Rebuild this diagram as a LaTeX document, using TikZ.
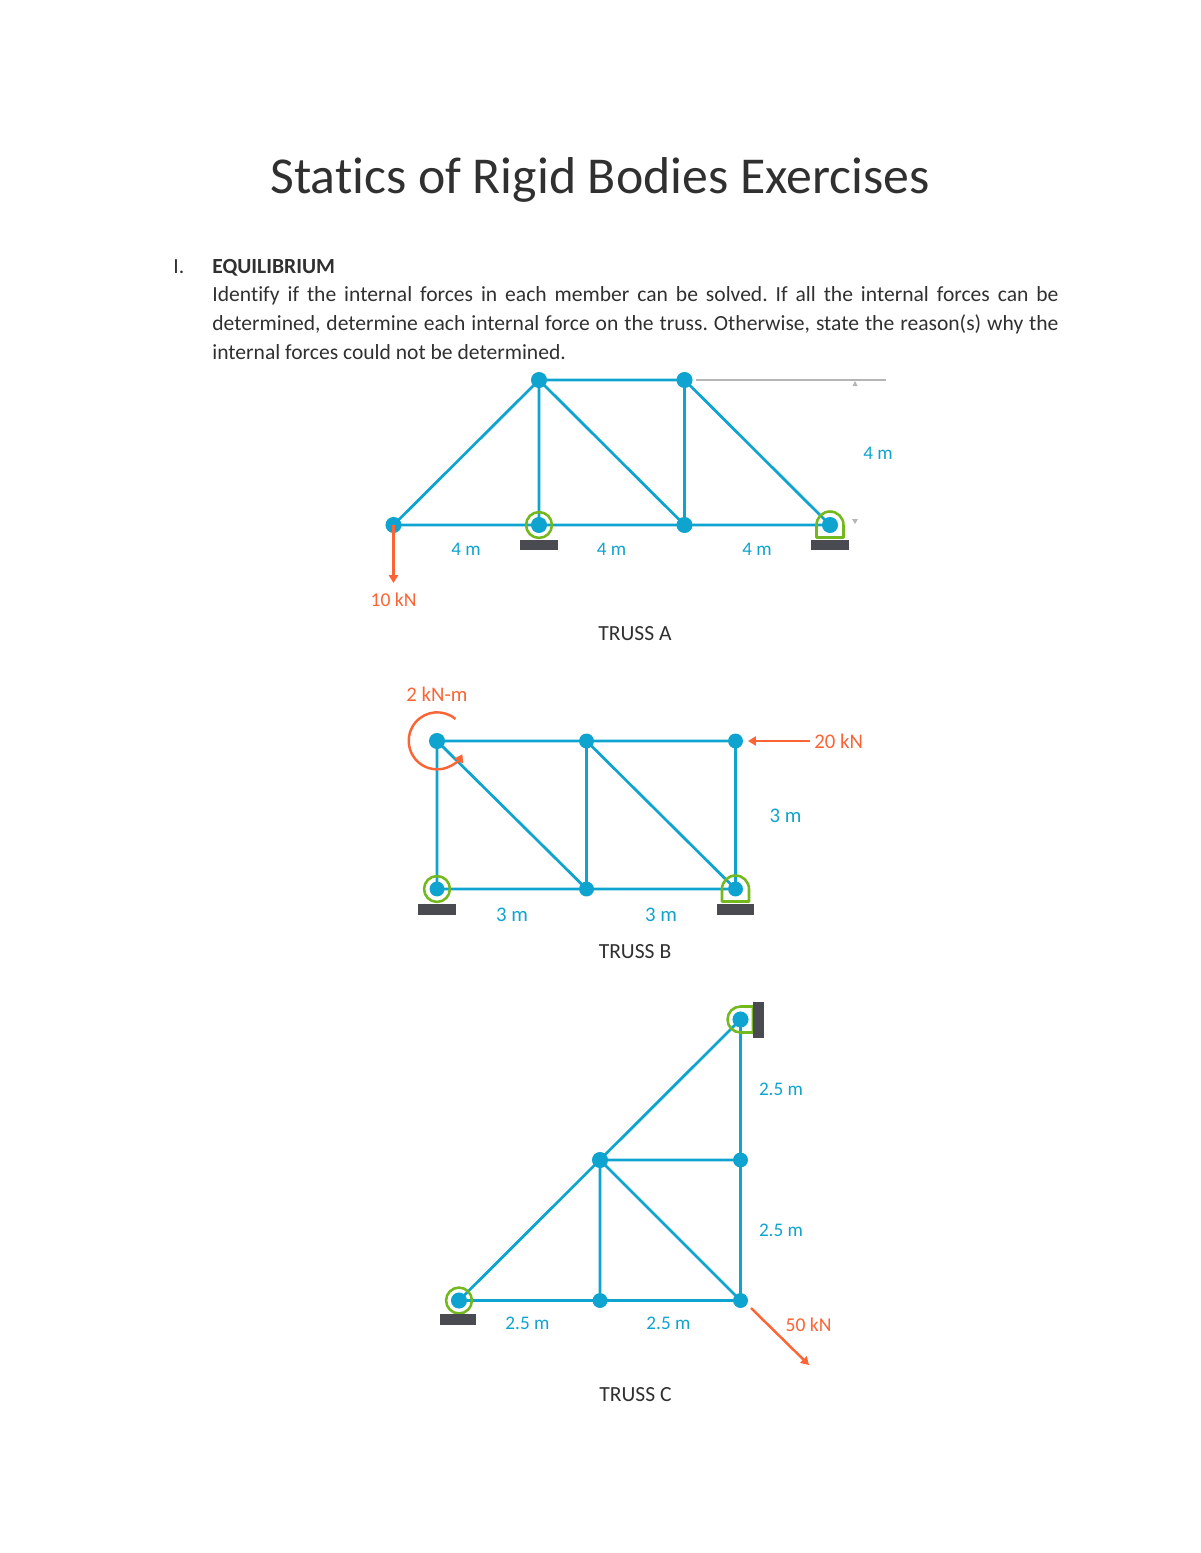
\documentclass[tikz,border=0pt]{standalone}
\usepackage{fontspec}
\setmainfont[Ligatures=NoCommon]{Carlito}
\usetikzlibrary{arrows.meta}
\definecolor{memb}{HTML}{0FA3CF}
\definecolor{forc}{HTML}{FB6434}
\definecolor{pin}{HTML}{73B91E}
\definecolor{gnd}{HTML}{4A4B50}
\definecolor{grayl}{HTML}{B5B5B5}
\definecolor{txt}{HTML}{303030}
\tikzset{
  x=0.51pt,y=-0.51pt,
  joint/.style={circle,fill=memb,inner sep=0pt,minimum size=8.2pt},
  smalljoint/.style={circle,fill=memb,inner sep=0pt,minimum size=7.6pt},
  member/.style={draw=memb,line width=1.4pt},
  force/.style={draw=forc,line width=1.25pt,-{Triangle[length=4pt,width=4.6pt]}},
  pinring/.style={circle,draw=pin,line width=1.3pt,inner sep=0pt,minimum size=13.2pt},
  pinline/.style={draw=pin,line width=1.3pt,line join=round},
  ground/.style={fill=gnd,draw=none,inner sep=0pt},
  dimlabel/.style={text=memb,font=\fontsize{9.8}{11}\selectfont,inner sep=0pt},
  dimlabelb/.style={text=memb,font=\fontsize{10.6}{12}\selectfont,inner sep=0pt},
  forcelabel/.style={text=forc,font=\fontsize{10}{11}\selectfont,inner sep=0pt},
  forcelabelb/.style={text=forc,font=\fontsize{10.6}{12}\selectfont,inner sep=0pt},
  caption/.style={text=txt,font=\fontsize{11}{13}\selectfont,inner sep=0pt},
  dimgray/.style={draw=grayl,line width=0.7pt},
  tickmark/.style={fill=grayl,draw=none},
}
\begin{document}
\begin{tikzpicture}
\useasboundingbox (0,0) rectangle (1200,1553);
% page text
\node[text=txt,font=\fontsize{26.4}{30}\selectfont,inner sep=0pt] (title) at (600,180) {Statics of Rigid Bodies Exercises};
\node[text=txt,font=\fontsize{11}{13}\selectfont,anchor=base west,inner sep=0pt] (num) at (173,273) {I.};
\node[text=txt,font=\fontsize{11}{13}\bfseries\selectfont,anchor=base west,inner sep=0pt] (head) at (212,273) {EQUILIBRIUM};
\node[text=txt,anchor=north west,inner sep=0pt,text width=431.5pt,align=justify,font=\fontsize{11}{14.8}\selectfont] (body) at (212,286)
 {\frenchspacing Identify if the internal forces in each member can be solved. If all the internal forces can be\linebreak determined, determine each internal force on the truss. Otherwise, state the reason(s) why the\linebreak internal forces could not be determined.};

% TRUSS A
\coordinate (a1) at (393.5,525);
\coordinate (a2) at (539,525);
\coordinate (a3) at (684.5,525);
\coordinate (a4) at (830,525);
\coordinate (a5) at (539,380);
\coordinate (a6) at (684.5,380);
\coordinate (a7) at (393.5,583);
\draw[member] (a1)--(a4) (a1)--(a5) (a5)--(a6) (a5)--(a2) (a5)--(a3) (a6)--(a3) (a6)--(a4);
\draw[dimgray] (696,380)--(886,380);
\fill[tickmark] (855,381)--(852.5,386)--(857.5,386)--cycle;
\fill[tickmark] (855,524)--(852,519)--(858,519)--cycle;
\node[pinring] (ar) at (a2) {};
\draw[pinline] (816.5,537.5)--(816.5,525) arc[start angle=180,end angle=360,radius=13.5]--(843.5,537.5)--cycle;
\node[ground,minimum width=19pt,minimum height=5.6pt] (ag1) at (539,545) {};
\node[ground,minimum width=19pt,minimum height=5.6pt] (ag2) at (830,545) {};
\foreach \n in {a1,a2,a3,a5,a6,a4} \node[joint] (j\n) at (\n) {};
\draw[force] (a1)--(a7);
\node[forcelabel] (l10) at (393.5,600) {10 kN};
\node[dimlabel] (la1) at (466,549) {4 m};
\node[dimlabel] (la2) at (611.5,549) {4 m};
\node[dimlabel] (la3) at (757,549) {4 m};
\node[dimlabel] (la4) at (878,453) {4 m};
\node[caption] (ca) at (635,634) {TRUSS A};

% TRUSS B
\coordinate (b1) at (437,889);
\coordinate (b2) at (586.5,889);
\coordinate (b3) at (735.5,889);
\coordinate (b4) at (437,741);
\coordinate (b5) at (586.5,741);
\coordinate (b6) at (735.5,741);
\coordinate (b7) at (810,741);
\coordinate (b8) at (748,741);
\draw[member] (b1)--(b3) (b4)--(b6) (b4)--(b1) (b5)--(b2) (b6)--(b3) (b4)--(b2) (b5)--(b3);
\node[pinring] (br) at (b1) {};
\draw[pinline] (722,901.5)--(722,889) arc[start angle=180,end angle=360,radius=13.5]--(749,901.5)--cycle;
\node[ground,minimum width=19pt,minimum height=5.6pt] (bg1) at (437,909) {};
\node[ground,minimum width=19pt,minimum height=5.6pt] (bg2) at (735.5,909) {};
\foreach \n in {b1,b2,b3,b5,b6} \node[smalljoint] (j\n) at (\n) {};
\node[joint] (jb4) at (b4) {};
\draw[force] (b7)--(b8);
\node[forcelabelb,anchor=west] (l20) at (814,741) {20 kN};
\draw[draw=forc,line width=1.25pt,-{Triangle[length=4pt,width=5pt]}] (455.5,719) arc[start angle=-50,end angle=-332,radius=28.5];
\node[forcelabelb] (l2) at (437,694) {2 kN-m};
\node[dimlabelb] (lb1) at (512,915) {3 m};
\node[dimlabelb] (lb2) at (661,915) {3 m};
\node[dimlabelb] (lb3) at (785.5,816) {3 m};
\node[caption] (cb) at (635,952) {TRUSS B};

% TRUSS C
\coordinate (c1) at (459,1300.5);
\coordinate (c2) at (600,1300.5);
\coordinate (c3) at (740.5,1300.5);
\coordinate (c4) at (600,1160);
\coordinate (c5) at (740.5,1160);
\coordinate (c6) at (740.5,1019.5);
\coordinate (c7) at (751,1308);
\coordinate (c8) at (809,1365);
\draw[member] (c1)--(c3) (c4)--(c5) (c1)--(c6) (c6)--(c3) (c4)--(c2) (c4)--(c3);
\node[pinring] (cr) at (c1) {};
\draw[pinline] (753,1006.5)--(740.5,1006.5) arc[start angle=270,end angle=90,radius=13]--(753,1032.5)--cycle;
\node[ground,minimum width=18pt,minimum height=5.4pt] (cg1) at (458,1319.5) {};
\node[ground,minimum width=5.4pt,minimum height=18pt] (cg2) at (758.5,1020) {};
\foreach \n in {c1,c4,c6} \node[joint] (j\n) at (\n) {};
\foreach \n in {c2,c3,c5} \node[smalljoint] (j\n) at (\n) {};
\draw[force] (c7)--(c8);
\node[forcelabel] (l50) at (808.5,1325) {50 kN};
\node[dimlabel] (lc1) at (527.5,1323) {2.5 m};
\node[dimlabel] (lc2) at (668.5,1323) {2.5 m};
\node[dimlabel] (lc3) at (781,1089) {2.5 m};
\node[dimlabel] (lc4) at (781,1230) {2.5 m};
\node[caption] (cc) at (635.5,1395) {TRUSS C};
\end{tikzpicture}
\end{document}
